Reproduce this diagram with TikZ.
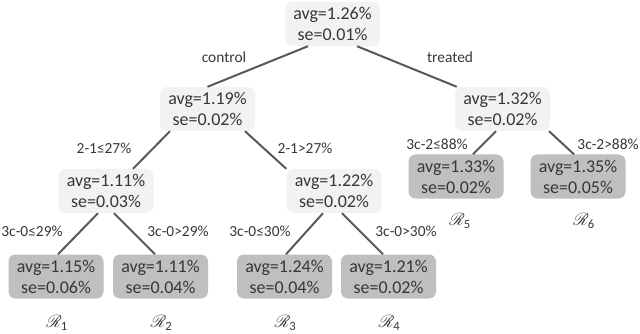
\documentclass[tikz,border=0pt]{standalone}
\usepackage{amsmath}
\usepackage{mathrsfs}
\usepackage{fontspec}
\setmainfont{Carlito}
\usetikzlibrary{positioning}
\definecolor{ink}{RGB}{55,55,55}
\definecolor{wire}{RGB}{89,89,89}
\definecolor{pale}{RGB}{242,242,242}
\definecolor{shade}{RGB}{191,191,191}
\tikzset{
  split/.style={fill=#1,rounded corners=7pt,minimum width=95pt,minimum height=44pt,
    inner sep=1pt,align=center,text=ink,font=\fontsize{18}{21}\selectfont},
  split/.default=pale,
  leaf/.style={split=shade},
  rule/.style={font=\fontsize{15.4}{17}\selectfont,text=ink},
  region/.style={font=\fontsize{18}{20}\selectfont,text=ink},
  wire/.style={draw=wire,line width=2pt},
}

\begin{document}
\begin{tikzpicture}[x=1pt,y=-1pt]
  \useasboundingbox (0,0) rectangle (640,334);
  % inner nodes
  \node[split] (root) at (332.5,24) {avg=1.26\%\\se=0.01\%};
  \node[split] (ctl) at (207.5,109) {avg=1.19\%\\se=0.02\%};
  \node[split] (trt) at (502.5,109) {avg=1.32\%\\se=0.02\%};
  \node[split] (lo) at (106,191) {avg=1.11\%\\se=0.03\%};
  \node[split] (hi) at (334,191) {avg=1.22\%\\se=0.02\%};
  % leaves
  \node[leaf] (r1) at (56,276.5) {avg=1.15\%\\se=0.06\%};
  \node[leaf] (r2) at (160.5,276.5) {avg=1.11\%\\se=0.04\%};
  \node[leaf] (r3) at (284.5,276.5) {avg=1.24\%\\se=0.04\%};
  \node[leaf] (r4) at (388.5,276.5) {avg=1.21\%\\se=0.02\%};
  \node[leaf] (r5) at (456,176.5) {avg=1.33\%\\se=0.02\%};
  \node[leaf] (r6) at (578,176.5) {avg=1.35\%\\se=0.05\%};
  % region names
  \node[region] (n1) at (57,323) {$\mathscr{R}_{\text{1}}$};
  \node[region] (n2) at (161.5,323) {$\mathscr{R}_{\text{2}}$};
  \node[region] (n3) at (285.5,323) {$\mathscr{R}_{\text{3}}$};
  \node[region] (n4) at (389.5,323) {$\mathscr{R}_{\text{4}}$};
  \node[region] (n5) at (460,221) {$\mathscr{R}_{\text{5}}$};
  \node[region] (n6) at (584,221) {$\mathscr{R}_{\text{6}}$};
  % branches
  \draw[wire] ([xshift=-24.5pt]root.south) -- (ctl.north);
  \draw[wire] ([xshift=24.5pt]root.south) -- ([xshift=2pt]trt.north west);
  \draw[wire] ([xshift=-37.5pt]ctl.south) -- ([xshift=27pt]lo.north);
  \draw[wire] ([xshift=37.5pt]ctl.south) -- (hi.north west);
  \draw[wire] ([xshift=-6.5pt]trt.south) -- ([xshift=17pt]r5.north);
  \draw[wire] ([xshift=46.5pt]trt.south) -- ([xshift=-4pt]r6.north);
  \draw[wire] ([xshift=-8pt]lo.south) -- ([xshift=2pt]r1.north);
  \draw[wire] ([xshift=8pt]lo.south) -- ([xshift=-5.5pt]r2.north);
  \draw[wire] ([xshift=-11pt]hi.south) -- ([xshift=1.5pt]r3.north);
  \draw[wire] ([xshift=8pt]hi.south) -- ([xshift=-5.5pt]r4.north);
  % split rules
  \node[rule] (l1) at (224,57) {control};
  \node[rule] (l2) at (450,57) {treated};
  \node[rule] (l3) at (104,148) {2-1≤27\%};
  \node[rule] (l4) at (305,148) {2-1>27\%};
  \node[rule] (l5) at (437,144) {3c-2≤88\%};
  \node[rule] (l6) at (608,144) {3c-2>88\%};
  \node[rule] (l7) at (32,231) {3c-0≤29\%};
  \node[rule] (l8) at (178,231) {3c-0>29\%};
  \node[rule] (l9) at (260,231) {3c-0≤30\%};
  \node[rule] (l10) at (406,231) {3c-0>30\%};
\end{tikzpicture}
\end{document}
